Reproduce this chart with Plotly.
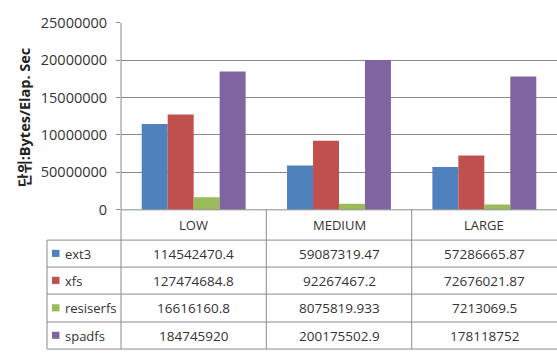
import plotly.graph_objects as go

# Throughput per workload size, one series per file system
categories = ["LOW", "MEDIUM", "LARGE"]
series_names = ["ext3", "xfs", "resiserfs", "spadfs"]
ext3 = [114542470.4, 59087319.47, 57286665.87]
xfs = [127474684.8, 92267467.2, 72676021.87]
resiserfs = [16616160.8, 8075819.933, 7213069.5]
spadfs = [184745920, 200175502.9, 178118752]
tick_values = [0, 50000000, 100000000, 150000000, 200000000, 250000000]
tick_labels = ["0", "50000000", "10000000", "15000000", "20000000", "25000000"]
y_title = "단위:Bytes/Elap. Sec"

colors = ["#4F81BD", "#C0504D", "#9BBB59", "#8064A2"]
W, H = 557, 358
FONT = "Open Sans, Noto Sans CJK KR, sans-serif"
TXT = "#333333"
LINE = "#8a8a8a"


def px(x):
    return x / W


def py(y):
    return 1 - y / H


plot_left, plot_top, plot_bottom = 121, 13.5, 211
row_edges = [211, 243, 271.5, 300, 329.5, 358]
col_edges = [47, 121, 266.3, 411.7, 557]

fig = go.Figure()
for name, vals, col in zip(series_names, [ext3, xfs, resiserfs, spadfs], colors):
    fig.add_trace(go.Bar(x=categories, y=vals, name=name, marker=dict(color=col, line=dict(width=0))))

shapes = []
# table borders
for i, y in enumerate(row_edges):
    x0 = col_edges[1] if i == 0 else col_edges[0]
    shapes.append(dict(type="line", xref="paper", yref="paper", x0=px(x0), x1=1, y0=py(y), y1=py(y),
                       line=dict(color=LINE, width=1)))
shapes.append(dict(type="line", xref="paper", yref="paper", x0=px(col_edges[0]), x1=px(col_edges[0]),
                   y0=py(row_edges[1]), y1=py(H), line=dict(color=LINE, width=1)))
shapes.append(dict(type="line", xref="paper", yref="paper", x0=px(plot_left), x1=px(plot_left),
                   y0=py(plot_top), y1=py(H), line=dict(color=LINE, width=1)))
for x in col_edges[2:4]:
    shapes.append(dict(type="line", xref="paper", yref="paper", x0=px(x), x1=px(x),
                       y0=py(row_edges[0]), y1=py(H), line=dict(color=LINE, width=1)))

annotations = []
# header row with category names
hdr_y = (row_edges[0] + row_edges[1]) / 2
for c in categories:
    annotations.append(dict(x=c, xref="x", y=py(hdr_y), yref="paper", text=c, showarrow=False,
                            xanchor="center", yanchor="middle",
                            font=dict(family=FONT, size=13, color=TXT)))
# data rows with legend keys
for r, (name, vals, col) in enumerate(zip(series_names, [ext3, xfs, resiserfs, spadfs], colors)):
    yc = (row_edges[r + 1] + row_edges[r + 2]) / 2
    shapes.append(dict(type="rect", xref="paper", yref="paper", x0=px(52), x1=px(59.5),
                       y0=py(yc + 3.5), y1=py(yc - 4), fillcolor=col, line=dict(width=0)))
    annotations.append(dict(x=px(63), xref="paper", y=py(yc), yref="paper", text=name, showarrow=False,
                            xanchor="left", yanchor="middle",
                            font=dict(family=FONT, size=13, color=TXT)))
    for c, v in zip(categories, vals):
        annotations.append(dict(x=c, xref="x", y=py(yc), yref="paper", text=f"{v:.10g}", showarrow=False,
                                xanchor="center", yanchor="middle",
                                font=dict(family=FONT, size=13.5, color=TXT)))

annotations.append(dict(x=px(25), xref="paper", y=py(114), yref="paper", text=f"<b>{y_title}</b>",
                        textangle=-90, showarrow=False, xanchor="center", yanchor="middle",
                        font=dict(family=FONT, size=14.5, color="#222222")))

fig.update_layout(
    width=W, height=H,
    margin=dict(l=0, r=0, t=0, b=0),
    paper_bgcolor="white", plot_bgcolor="white",
    barmode="group", bargap=0.285, bargroupgap=0,
    showlegend=False,
    xaxis=dict(domain=[px(plot_left), 1], showticklabels=False, ticks="", showgrid=False,
               showline=False, zeroline=False, fixedrange=True),
    yaxis=dict(domain=[py(plot_bottom), py(plot_top)], range=[0, 250000000],
               tickvals=tick_values, ticktext=tick_labels, ticks="outside", ticklen=4, tickcolor=LINE,
               ticklabelstandoff=6,
               showgrid=True, gridcolor=LINE, gridwidth=1, zeroline=False, showline=False,
               tickfont=dict(family=FONT, size=14.5, color=TXT)),
    shapes=shapes, annotations=annotations,
)

# keep the page exactly the size of the figure
fig.write_html(
    "out.html",
    post_script="document.body.style.margin='0';document.documentElement.style.overflow='hidden';",
)
